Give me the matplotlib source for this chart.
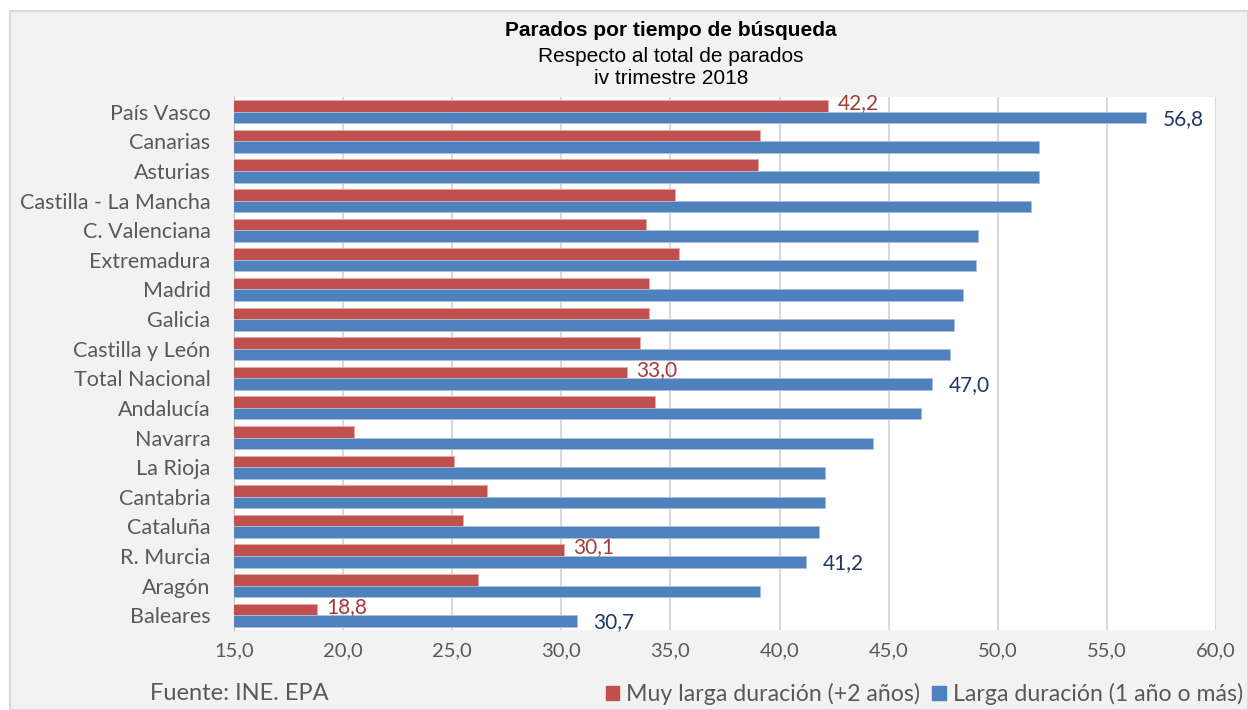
import matplotlib.pyplot as plt
import numpy as np
from matplotlib.patches import Rectangle

regiones = ['País Vasco', 'Canarias', 'Asturias', 'Castilla - La Mancha', 'C. Valenciana',
            'Extremadura', 'Madrid', 'Galicia', 'Castilla y León', 'Total Nacional',
            'Andalucía', 'Navarra', 'La Rioja', 'Cantabria', 'Cataluña', 'R. Murcia',
            'Aragón', 'Baleares']
muy_larga = [42.2, 39.1, 39.0, 35.2, 33.9, 35.4, 34.0, 34.0, 33.6, 33.0,
             34.3, 20.5, 25.1, 26.6, 25.5, 30.1, 26.2, 18.8]
larga = [56.8, 51.9, 51.9, 51.5, 49.1, 49.0, 48.4, 48.0, 47.8, 47.0,
         46.5, 44.3, 42.1, 42.1, 41.8, 41.2, 39.1, 30.7]
etiquetados = ['País Vasco', 'Total Nacional', 'R. Murcia', 'Baleares']
xticks = np.arange(15, 60.1, 5)

ROJO = '#C0504D'
AZUL = '#4F81BD'
GRIS = '#595959'
FONDO = '#F2F2F2'
FUENTE = ['Lato', 'DejaVu Sans']

fig = plt.figure(figsize=(12.48, 7.10), dpi=100, facecolor='white')
# chart area background with border
fig.patches.append(Rectangle((10 / 1248, 0), 1 - 10 / 1248, 1 - 11 / 710,
                             transform=fig.transFigure, facecolor=FONDO,
                             edgecolor='#D9D9D9', linewidth=1.5, zorder=-10))

ax = fig.add_axes([234 / 1248, 1 - 630 / 710, (1216 - 234) / 1248, (630 - 97) / 710])
ax.set_facecolor('white')

y = np.arange(len(regiones))
h = 0.39
ax.barh(y - h / 2, muy_larga, height=h, color=ROJO, edgecolor='#E8A8A6',
        linewidth=0.6, zorder=3)
ax.barh(y + h / 2, larga, height=h, color=AZUL, edgecolor='#A9C0E0',
        linewidth=0.6, zorder=3)

for i, reg in enumerate(regiones):
    if reg in etiquetados:
        ax.annotate('{:.1f}'.format(muy_larga[i]).replace('.', ','),
                    (muy_larga[i], y[i] - h / 2), xytext=(7, 2), textcoords='offset points',
                    ha='left', va='center', fontsize=15, color='#A33B39', family=FUENTE)
        ax.annotate('{:.1f}'.format(larga[i]).replace('.', ','),
                    (larga[i], y[i] + h / 2), xytext=(12, -1), textcoords='offset points',
                    ha='left', va='center', fontsize=15, color='#1F3864', family=FUENTE)

ax.set_xlim(15, 60)
ax.set_ylim(len(regiones) - 0.5, -0.5)
ax.set_xticks(xticks)
ax.set_xticklabels(['{:.1f}'.format(v).replace('.', ',') for v in xticks],
                   fontsize=14.5, color=GRIS, family=FUENTE)
ax.set_yticks(y)
ax.set_yticklabels(regiones, fontsize=15.5, color=GRIS, family=FUENTE)
ax.tick_params(axis='x', length=0, pad=9)
ax.tick_params(axis='y', length=0, pad=17)
ax.grid(axis='x', color='#D9D9D9', linewidth=1.5, zorder=0)
for s in ['top', 'right', 'bottom']:
    ax.spines[s].set_visible(False)
ax.spines['left'].set_color('#BFBFBF')

cx = 671 / 1248
fig.text(cx, 1 - 31 / 710, 'Parados por tiempo de búsqueda',
         ha='center', va='center', fontsize=15, fontweight='bold',
         family='Liberation Sans', color='black')
fig.text(cx, 1 - 56 / 710, 'Respecto al total de parados',
         ha='center', va='center', fontsize=15, family='Liberation Sans', color='black')
fig.text(cx, 1 - 79 / 710, 'iv trimestre 2018',
         ha='center', va='center', fontsize=15, family='Liberation Sans', color='black')

fig.text(150 / 1248, 1 - 694 / 710, 'Fuente: INE. EPA', ha='left', va='center',
         fontsize=17, color=GRIS, family=FUENTE)

leg = fig.legend(handles=[Rectangle((0, 0), 1, 1, color=ROJO), Rectangle((0, 0), 1, 1, color=AZUL)],
                 labels=['Muy larga duración (+2 años)', 'Larga duración (1 año o más)'],
                 loc='center right', bbox_to_anchor=(1243 / 1248, 1 - 694 / 710), ncol=2,
                 frameon=False, handlelength=0.6, handleheight=0.6, handletextpad=0.3,
                 columnspacing=0.5, borderaxespad=0, borderpad=0,
                 prop={'family': FUENTE, 'size': 16.7})
for t in leg.get_texts():
    t.set_color(GRIS)

fig.savefig('out.png', dpi=100, facecolor=fig.get_facecolor())
